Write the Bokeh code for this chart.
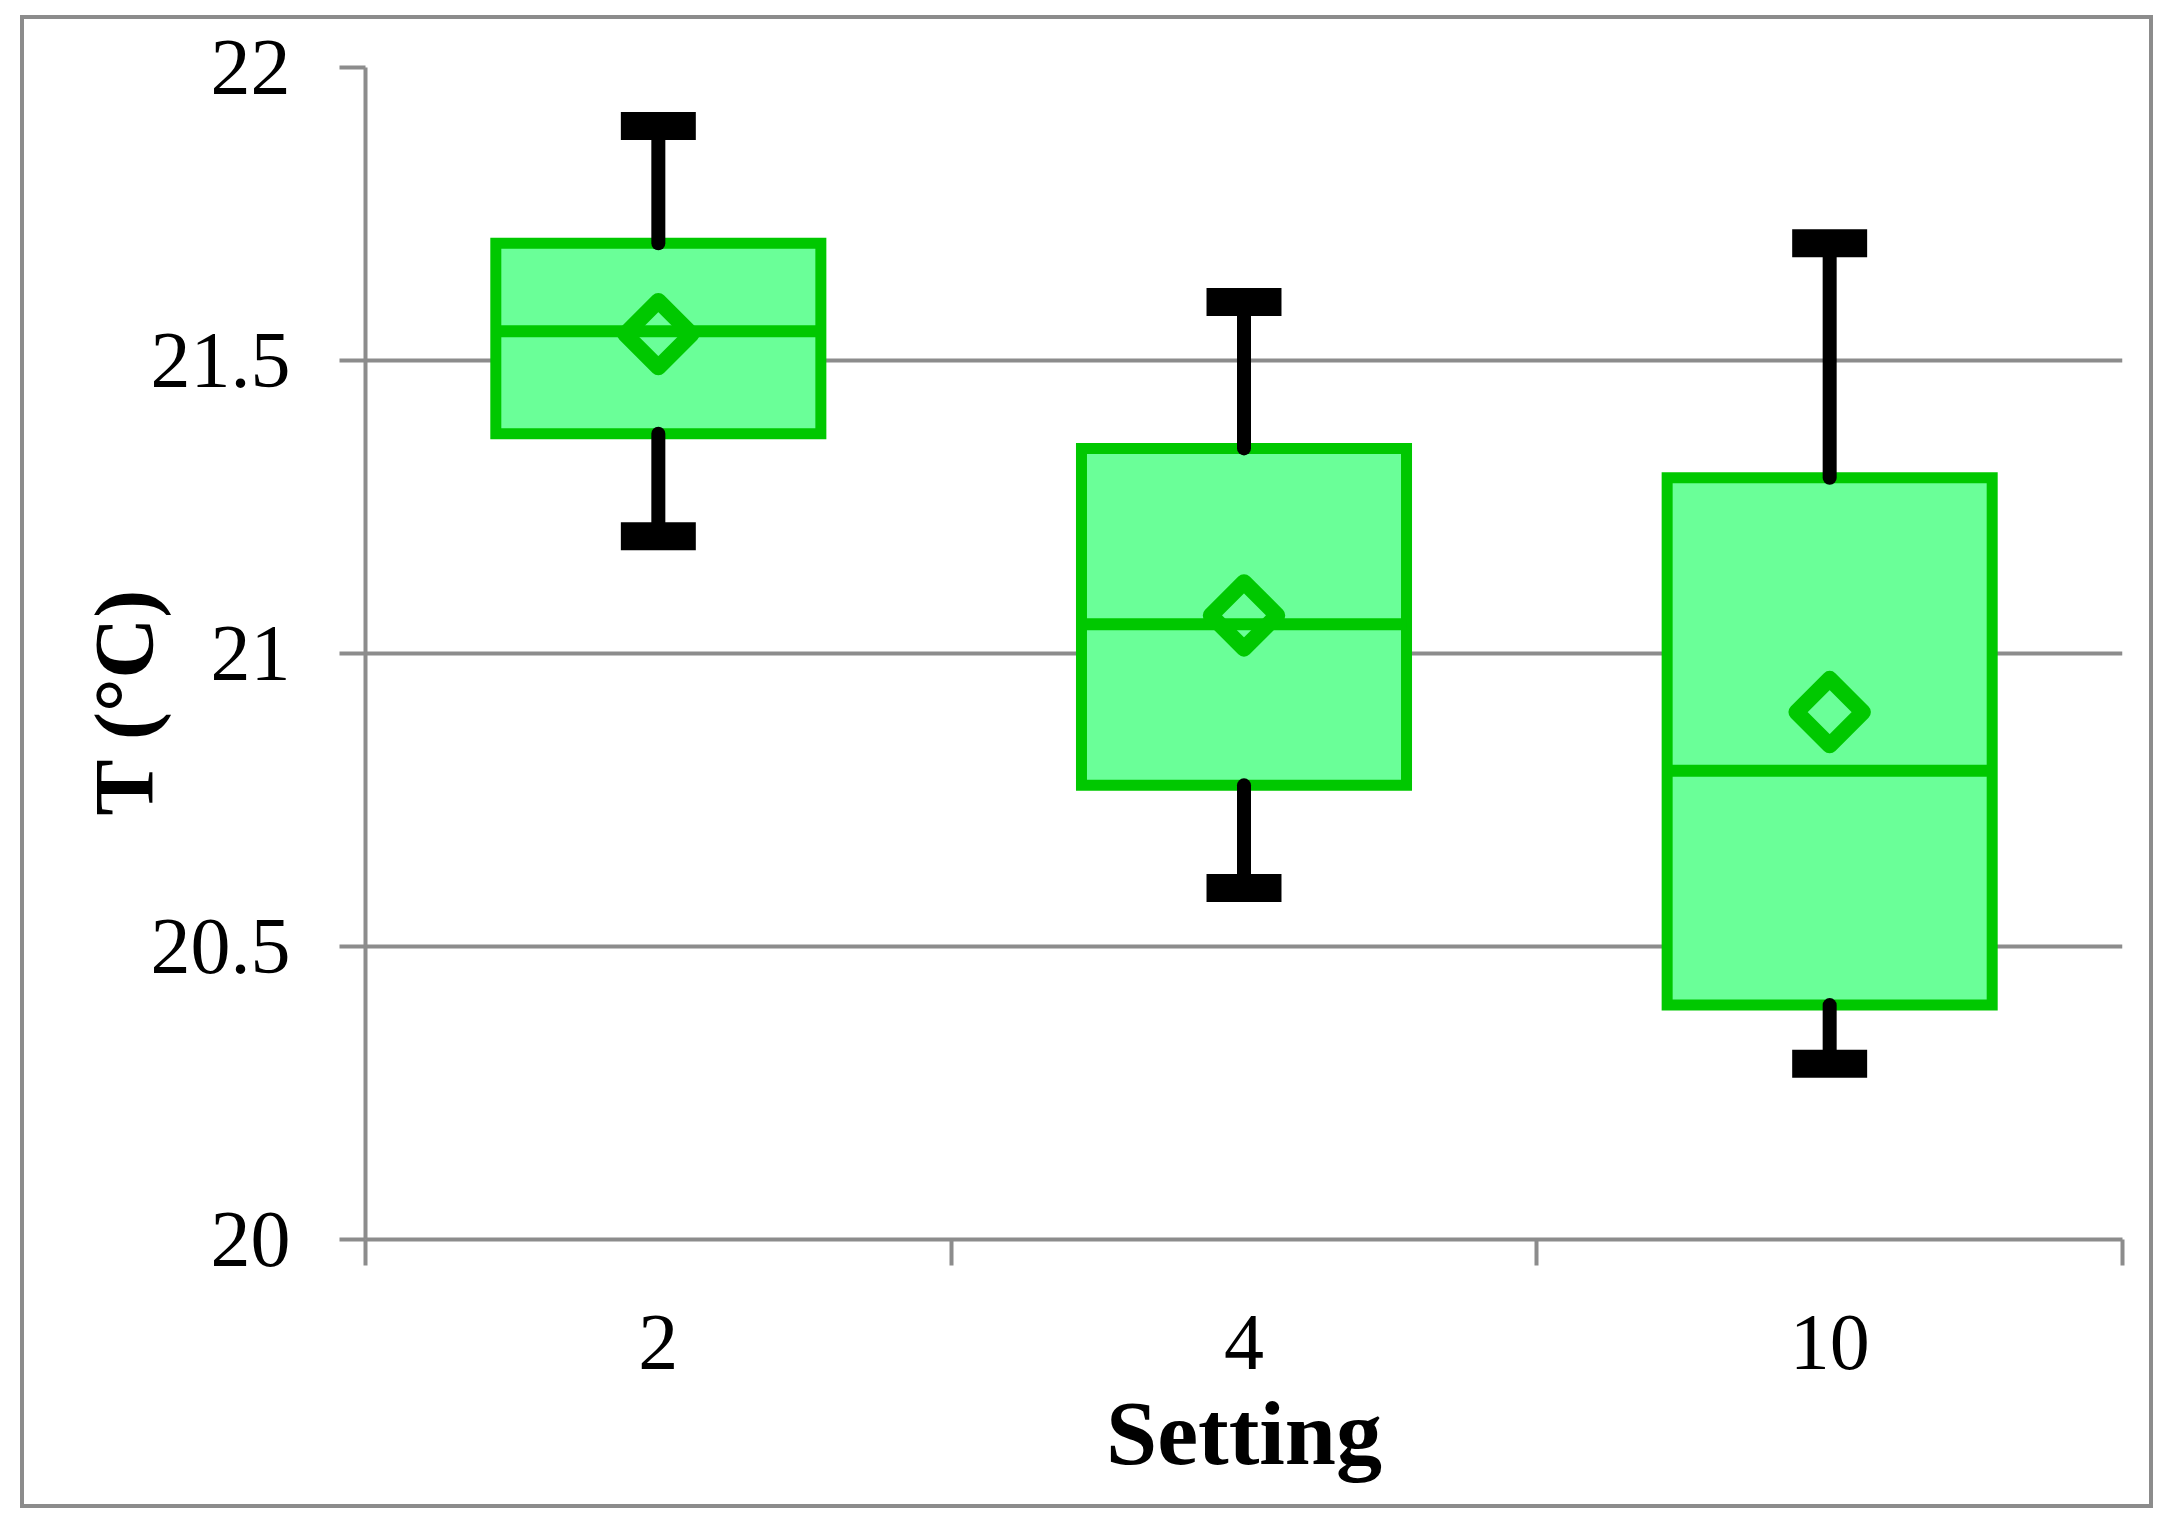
import math
from bokeh.plotting import figure
from bokeh.models import FixedTicker, Title
from bokeh.embed import file_html
from bokeh.resources import INLINE

# ---- data ----
settings = ["2", "4", "10"]
whisker_low = [21.20, 20.60, 20.30]
q1 = [21.375, 20.775, 20.40]
medians = [21.55, 21.05, 20.80]
q3 = [21.70, 21.35, 21.30]
whisker_high = [21.90, 21.60, 21.70]
means = [21.545, 21.065, 20.90]
y_ticks = [20, 20.5, 21, 21.5, 22]
y_tick_labels = ["20", "20.5", "21", "21.5", "22"]
x_label = "Setting"
y_label = "T (°C)"

# ---- styles ----
GRAY = "#8C8C8C"
FILL = "#6AFF98"
EDGE = "#00C800"
FONT = "Liberation Serif"
BOX_W = 0.555
CAP_HALF = 0.064

xs = [i + 0.5 for i in range(len(settings))]
bounds = [float(i) for i in range(len(settings) + 1)]

p = figure(
    frame_width=1757, frame_height=1172,
    x_range=(0, len(settings)), y_range=(y_ticks[0], y_ticks[-1]),
    output_backend="svg", toolbar_location=None,
    min_border_left=341, min_border_right=27,
    min_border_top=48, min_border_bottom=265,
)
p.styles = {
    "border": f"4px solid {GRAY}",
    "box-sizing": "content-box",
    "margin-left": "20px",
    "margin-top": "15px",
}
p.outline_line_color = None
p.background_fill_color = "white"
p.border_fill_color = "white"

# grid
p.xgrid.visible = False
p.ygrid.grid_line_color = GRAY
p.ygrid.grid_line_width = 4

# x axis
xa = p.xaxis[0]
xa.ticker = FixedTicker(ticks=xs, minor_ticks=bounds)
xa.major_label_overrides = {x: s for x, s in zip(xs, settings)}
xa.major_tick_line_color = None
xa.major_tick_out = 26
xa.major_tick_in = 0
xa.minor_tick_out = 26
xa.minor_tick_in = 0
xa.minor_tick_line_color = GRAY
xa.minor_tick_line_width = 4
xa.axis_line_color = GRAY
xa.axis_line_width = 4
xa.major_label_text_font = FONT
xa.major_label_text_font_size = "80px"
xa.major_label_text_color = "black"
xa.major_label_standoff = 50
xa.axis_label = x_label
xa.axis_label_text_font = FONT
xa.axis_label_text_font_style = "bold"
xa.axis_label_text_font_size = "92px"
xa.axis_label_text_color = "black"
xa.axis_label_standoff = 10

# y axis
ya = p.yaxis[0]
ya.ticker = FixedTicker(ticks=y_ticks, minor_ticks=[])
ya.major_label_overrides = {t: s for t, s in zip(y_ticks, y_tick_labels)}
ya.major_tick_out = 26
ya.major_tick_in = 0
ya.minor_tick_out = 0
ya.minor_tick_in = 0
ya.major_tick_line_color = GRAY
ya.major_tick_line_width = 4
ya.axis_line_color = GRAY
ya.axis_line_width = 4
ya.major_label_text_font = FONT
ya.major_label_text_font_size = "80px"
ya.major_label_text_color = "black"
ya.major_label_standoff = 49

# boxes
p.vbar(x=xs, width=BOX_W, bottom=q1, top=q3,
       fill_color=FILL, line_color=EDGE, line_width=11, line_join="miter")
# medians
p.segment(x0=[x - BOX_W / 2 for x in xs], y0=medians,
          x1=[x + BOX_W / 2 for x in xs], y1=medians,
          line_color=EDGE, line_width=12)
# whiskers
p.segment(x0=xs, y0=q3, x1=xs, y1=whisker_high,
          line_color="black", line_width=14, line_cap="round")
p.segment(x0=xs, y0=q1, x1=xs, y1=whisker_low,
          line_color="black", line_width=14, line_cap="round")
# caps
p.segment(x0=[x - CAP_HALF for x in xs], y0=whisker_high,
          x1=[x + CAP_HALF for x in xs], y1=whisker_high,
          line_color="black", line_width=28, line_cap="butt")
p.segment(x0=[x - CAP_HALF for x in xs], y0=whisker_low,
          x1=[x + CAP_HALF for x in xs], y1=whisker_low,
          line_color="black", line_width=28, line_cap="butt")
# means
p.scatter(x=xs, y=means, marker="square", size=47, angle=math.pi / 4,
          line_color=EDGE, line_width=16, fill_color=None, line_join="round")

# y axis title
yt = Title(text=y_label, align="left", offset=424, vertical_align="bottom",
           standoff=0, text_font=FONT, text_font_style="bold",
           text_font_size="84px", text_color="black")
try:
    yt.standoff = -46
except Exception:
    pass
p.add_layout(yt, "left")

open("out.html", "w").write(file_html(p, INLINE))
